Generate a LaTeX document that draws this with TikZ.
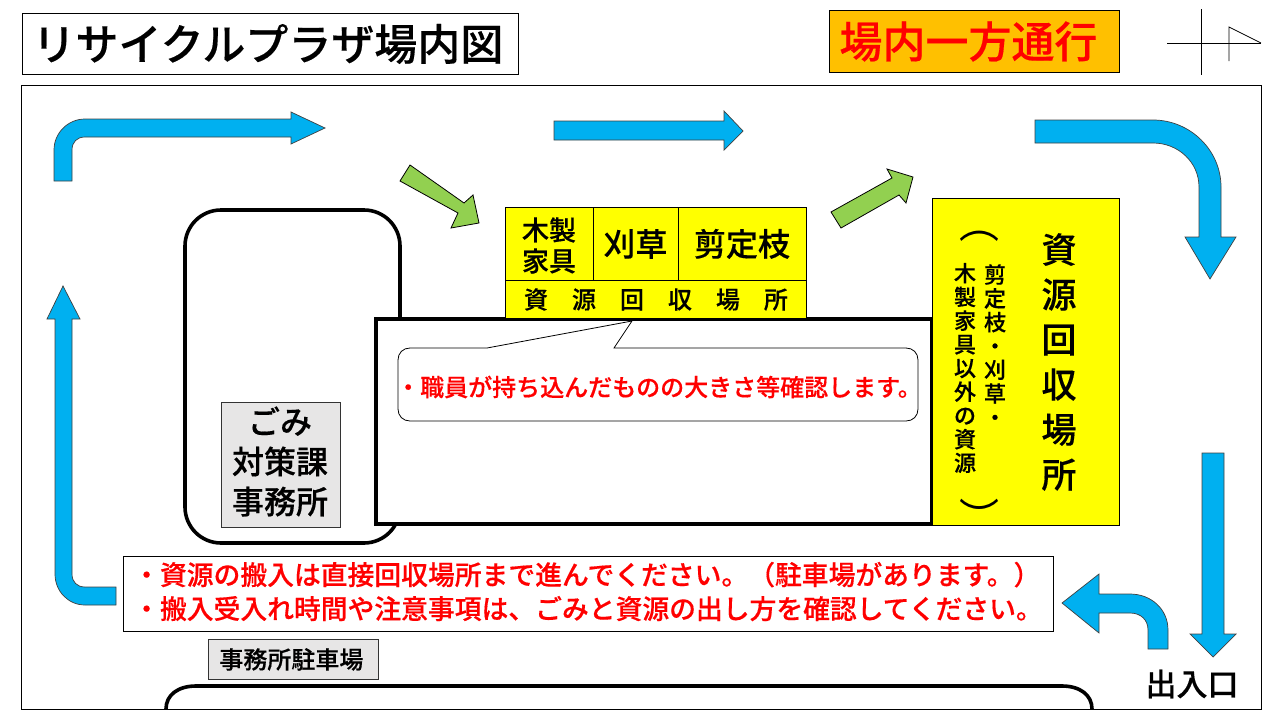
\documentclass[tikz,border=0pt]{standalone}
\usepackage{fontspec}
\setmainfont{Noto Sans CJK JP}[BoldFont=* Medium,BoldFeatures={FakeBold=0.35}]
\usetikzlibrary{positioning}
\definecolor{arrowblue}{HTML}{00B0F0}
\definecolor{arrowgreen}{HTML}{92D050}
\definecolor{signorange}{HTML}{FFC000}
\definecolor{signyellow}{HTML}{FFFF00}
\definecolor{roomgray}{HTML}{E7E6E6}
\newcommand{\jfont}[2]{\fontsize{#1}{#2}\selectfont\bfseries}
\tikzset{
  bluearrow/.style={draw=black!75,fill=arrowblue,line width=0.7},
  greenarrow/.style={draw=black,fill=arrowgreen,line width=0.8},
  wall/.style={draw=black,line width=3.6},
  yellowbox/.style={draw=black,fill=signyellow,line width=0.9,anchor=north west,inner sep=0pt,align=center},
  graybox/.style={draw=black!80,fill=roomgray,line width=0.8,anchor=north west,inner sep=0pt,align=center},
  whitebox/.style={draw=black,fill=white,line width=0.9,anchor=north west,inner sep=0pt,align=left}
}
\begin{document}
\begin{tikzpicture}[x=1pt,y=-1pt]
  \useasboundingbox (0,0) rectangle (1280,720);
  % title and sign
  \node[whitebox,minimum width=496,minimum height=61,font=\jfont{43}{46}] (title) at (21.5,13) {\hspace{-4pt}リサイクルプラザ場内図};
  \node[draw=black,fill=signorange,line width=0.9,anchor=north west,minimum width=290,minimum height=62,inner sep=0pt,text=red,font=\jfont{43}{46}] (sign) at (829,10) {\hspace{-12pt}\raisebox{1pt}{場内一方通行}};
  % north mark
  \draw[line width=0.8] (1167,43) -- (1261,43);
  \draw[line width=0.8] (1201,9) -- (1201,75);
  \draw[line width=0.8] (1229,61) -- (1229,27) -- (1261,43);
  % site outline
  \draw[line width=0.9] (21.5,85.5) rectangle (1261,709);
  % buildings
  \draw[wall,fill=white,rounded corners=36] (185,210) rectangle (400,543);
  \draw[wall,fill=white] (376,319) rectangle (932,524);
  \draw[wall] (166,709) .. controls (166,695) and (178,686) .. (196,686) -- (1062,686) .. controls (1080,686) and (1092,695) .. (1092,709);
  % one way arrows
  \draw[bluearrow] (54,181) -- (54,150) .. controls (54,133) and (68,119) .. (85,119) -- (291,119) -- (291,112) -- (325,128) -- (291,144) -- (291,137) -- (85,137) .. controls (77,137) and (72,142) .. (72,150) -- (72,181) -- cycle;
  \draw[bluearrow] (554,121) -- (724,121) -- (724,111) -- (743,131) -- (724,150) -- (724,140) -- (554,140) -- cycle;
  \draw[bluearrow] (1035,120) -- (1153,120) .. controls (1190,120) and (1221,150) .. (1221,187) -- (1221,237) -- (1236,237) -- (1210,279) -- (1185,237) -- (1199,237) -- (1199,187) .. controls (1199,162) and (1178,143) .. (1153,143) -- (1035,143) -- cycle;
  \draw[bluearrow] (1202,453) -- (1224,453) -- (1224,634) -- (1236,634) -- (1213,657) -- (1190,634) -- (1202,634) -- cycle;
  \draw[bluearrow] (1168,649) -- (1168,630) .. controls (1168,609) and (1151,594) .. (1130,594) -- (1099,594) -- (1099,574) -- (1062,603) -- (1099,633) -- (1099,613) -- (1130,613) .. controls (1141,613) and (1148,620) .. (1148,630) -- (1148,649) -- cycle;
  \draw[bluearrow] (116,587) -- (85,587) .. controls (77,587) and (72,582) .. (72,574) -- (72,319) -- (80,319) -- (63,286) -- (47,319) -- (55,319) -- (55,574) .. controls (55,591) and (68,605) .. (85,605) -- (116,605) -- cycle;
  \draw[greenarrow] (410,165) -- (464,203) -- (473,195) -- (479,223) -- (451,228) -- (458,213) -- (400,181) -- cycle;
  \draw[greenarrow] (831,212) -- (892,178) -- (887,169) -- (913,177) -- (906,203) -- (899,195) -- (841,228) -- cycle;
  % recycling counters
  \node[yellowbox,minimum width=88,minimum height=73] (wood) at (505,207) {};
  \node[align=center,inner sep=0pt,font=\jfont{27}{31}] (woodtext) at (549,245.5) {木製\\家具};
  \node[yellowbox,minimum width=85,minimum height=73,font=\jfont{32}{34}] (grass) at (592.5,207) {\raisebox{-2pt}{刈草}};
  \node[yellowbox,minimum width=128,minimum height=73,font=\jfont{32}{34}] (branch) at (677.5,207) {\raisebox{-2pt}{剪定枝}};
  \node[yellowbox,minimum width=301,minimum height=38,font=\jfont{24}{28}] (counter) at (505,280) {資　源　回　収　場　所};
  \node[yellowbox,minimum width=187.5,minimum height=327] (resource) at (931.5,198) {};
  \node[align=center,inner sep=0pt,font=\jfont{35}{45}] (resname) at (1059,362) {資\\源\\回\\収\\場\\所};
  \node[align=center,inner sep=0pt,font=\jfont{22}{23.8}] (resitema) at (995,345) {剪\\定\\枝\\・\\刈\\草\\・};
  \node[align=center,inner sep=0pt,font=\jfont{22}{23.7}] (resitemb) at (965,368) {木\\製\\家\\具\\以\\外\\の\\資\\源};
  \node[inner sep=0pt,font=\fontsize{40}{44}\selectfont] (parenopen) at (979,236) {︵};
  \node[inner sep=0pt,font=\fontsize{40}{44}\selectfont] (parenclose) at (979,516) {︶};
  % callout
  \draw[draw=black,fill=white,line width=0.8] (410,348) -- (487,348) -- (632,321) -- (614,348) -- (906,348) .. controls (913,348) and (918,353) .. (918,360) -- (918,409) .. controls (918,416) and (913,421) .. (906,421) -- (410,421) .. controls (403,421) and (398,416) .. (398,409) -- (398,360) .. controls (398,353) and (403,348) .. (410,348) -- cycle;
  \node[text=red,anchor=west,inner sep=0pt,font=\jfont{24}{26}] (check) at (396,387) {・職員が持ち込んだものの大きさ等確認します。};
  % offices and notes
  \node[graybox,minimum width=119,minimum height=125] (office) at (221,402) {};
  \node[align=center,inner sep=0pt,font=\jfont{32}{40}] (officetext) at (280,461.5) {ごみ\\対策課\\事務所};
  \node[whitebox,minimum width=930,minimum height=75] (notice) at (123,556) {};
  \node[text=red,anchor=west,inner sep=0pt,align=left,font=\jfont{26.8}{34}] (noticetext) at (133,591.5) {・資源の搬入は直接回収場所まで進んでください。（駐車場があります。）\\・搬入受入れ時間や注意事項は、ごみと資源の出し方を確認してください。};
  \node[graybox,minimum width=170,minimum height=40,font=\jfont{24}{26}] (parking) at (208,639) {\hspace{-4pt}\raisebox{2pt}{事務所駐車場}};
  \node[inner sep=0pt,font=\jfont{31}{34}] (gate) at (1192,684) {出入口};
\end{tikzpicture}
\end{document}
